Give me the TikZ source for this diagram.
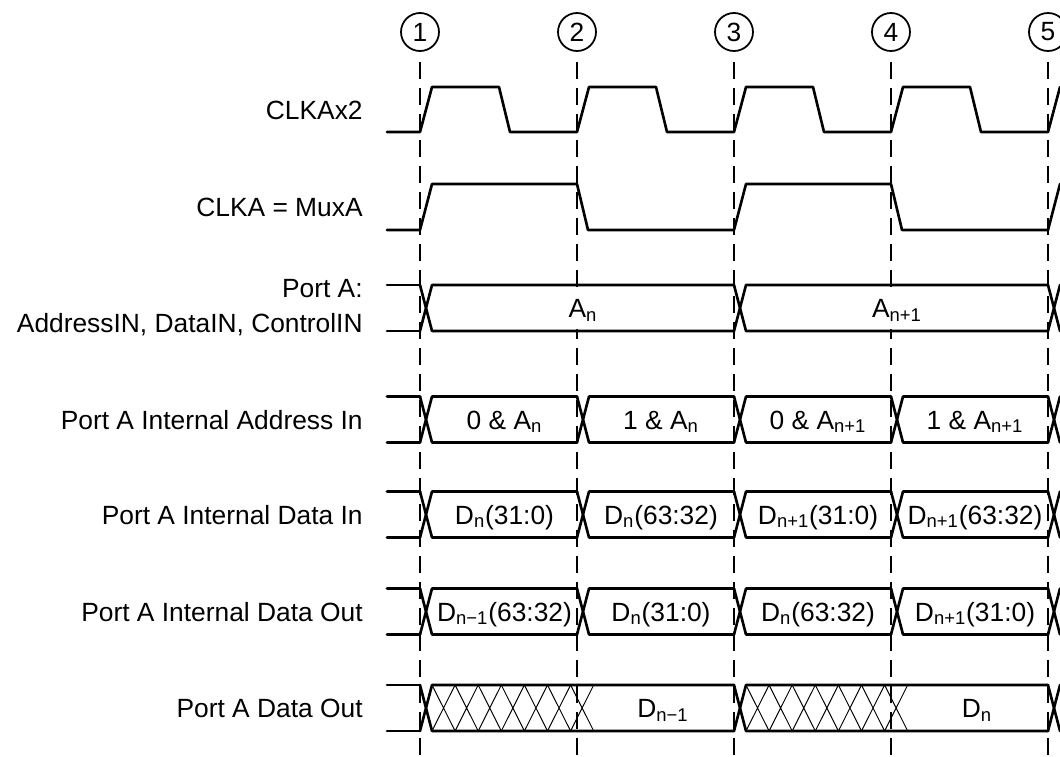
\documentclass[tikz,border=0pt]{standalone}
\usepackage{fontspec}
\setmainfont{Liberation Sans}
\begin{document}
\begin{tikzpicture}[x=0.2mm, y=-0.2mm,
    every node/.style={font=\fontsize{15}{20}\selectfont, inner sep=0pt}]

  % parámetros
  \def\xs{387}   % inicio de las señales
  \def\tr{12}    % tiempo de subida / bajada
  \def\h{23}     % media altura de los buses
  \def\xe{363}   % borde derecho de las etiquetas

  % estilos
  \tikzset{
    senal/.style={line width=1.5pt, line join=round, line cap=round},
    guia/.style={line width=0.7pt, dash pattern=on 3.4mm off 1.8mm},
    rayado/.style={line width=0.55pt},
    etiq/.style={anchor=base east},
    valor/.style={anchor=base},
    marca/.style={draw, circle, line width=1pt, minimum size=7.6mm}
  }

  % bus: #1 = centro (y), #2 = pares de flancos
  \newcommand{\busfila}[2]{%
    \draw[senal] (\xs,{#1-\h}) -- (420,{#1-\h}) (\xs,{#1+\h}) -- (420,{#1+\h});
    \foreach \a/\b in {#2} {
      \draw[senal] (\a,{#1-\h}) -- ({\a+\tr},{#1+\h}) -- (\b,{#1+\h});
      \draw[senal] (\a,{#1+\h}) -- ({\a+\tr},{#1-\h}) -- (\b,{#1-\h});
    }
  }

  \useasboundingbox (0,0) rectangle (1060,757);
  \clip (0,0) rectangle (1060,757);

  % --- marcas de flanco y líneas punteadas ---
  \foreach \i/\e in {1/420,2/577,3/734,4/891,5/1048} {
    \node[marca] (m\i) at (\e,32) {\i};
    \draw[guia] (m\i.south) ++(0,10) -- (\e,757);
  }

  % --- CLKAx2 ---
  \node[etiq] (clkx) at (\xe,119) {CLKAx2};
  \draw[senal] (\xs,132) foreach \e in {420,577,734,891} {
      -- (\e,132) -- ({\e+12},87) -- ({\e+79},87) -- ({\e+90},132) }
    -- (1048,132) -- (1060,87);

  % --- CLKA = MuxA ---
  \node[etiq] (clka) at (\xe,216.5) {CLKA = MuxA};
  \draw[senal] (\xs,230) -- (420,230) -- (432,184) -- (577,184) -- (588,230)
    -- (734,230) -- (746,184) -- (891,184) -- (902,230) -- (1048,230) -- (1060,184);

  % --- Port A ---
  \node[anchor=east, align=right] (pta) at (\xe,307.5)
    {Port A:\\AddressIN, DataIN, ControlIN};
  % fondo blanco: tapa las líneas punteadas
  \fill[white] (434,287) rectangle (732,329) (748,287) rectangle (1046,329);
  \busfila{308}{420/734,734/1048,1048/1060}
  \node[valor] (an) at (583,317.5) {A\textsubscript{n}};
  \node[valor] (an1) at (897,317.5) {A\textsubscript{n+1}};

  % --- dirección interna ---
  \node[etiq] (dir) at (\xe,429) {Port A Internal Address In};
  \busfila{419.5}{420/577,577/734,734/891,891/1048,1048/1060}
  \node[valor] (d1) at (504.5,429) {0 \& A\textsubscript{n}};
  \node[valor] (d2) at (661,429) {1 \& A\textsubscript{n}};
  \node[valor] (d3) at (818,429) {0 \& A\textsubscript{n+1}};
  \node[valor] (d4) at (975,429) {1 \& A\textsubscript{n+1}};

  % --- dato interno de entrada ---
  \node[etiq] (din) at (\xe,524) {Port A Internal Data In};
  \busfila{514.5}{420/577,577/734,734/891,891/1048,1048/1060}
  \node[valor] (i1) at (504.5,524) {D\textsubscript{n}(31:0)};
  \node[valor] (i2) at (661,524) {D\textsubscript{n}(63:32)};
  \node[valor] (i3) at (818,524) {D\textsubscript{n+1}(31:0)};
  \node[valor] (i4) at (975,524) {D\textsubscript{n+1}(63:32)};

  % --- dato interno de salida ---
  \node[etiq] (dio) at (\xe,621) {Port A Internal Data Out};
  \busfila{611.5}{420/577,577/734,734/891,891/1048,1048/1060}
  \node[valor] (o1) at (504.5,621) {D\textsubscript{n−1}(63:32)};
  \node[valor] (o2) at (661,621) {D\textsubscript{n}(31:0)};
  \node[valor] (o3) at (818,621) {D\textsubscript{n}(63:32)};
  \node[valor] (o4) at (975,621) {D\textsubscript{n+1}(31:0)};

  % --- salida de datos ---
  \node[etiq] (dout) at (\xe,717.5) {Port A Data Out};
  \busfila{708}{420/734,734/1048,1048/1060}
  % zona indefinida
  \foreach \s in {432,746} {
    \foreach \k in {0,...,6} {
      \draw[rayado] ({\s+23.1*\k},685) -- ({\s+23.1*(\k+1)},731)
                    ({\s+23.1*\k},731) -- ({\s+23.1*(\k+1)},685);
    }
  }
  \node[valor] (q1) at (663,717.5) {D\textsubscript{n−1}};
  \node[valor] (q2) at (977,717.5) {D\textsubscript{n}};

\end{tikzpicture}
\end{document}
